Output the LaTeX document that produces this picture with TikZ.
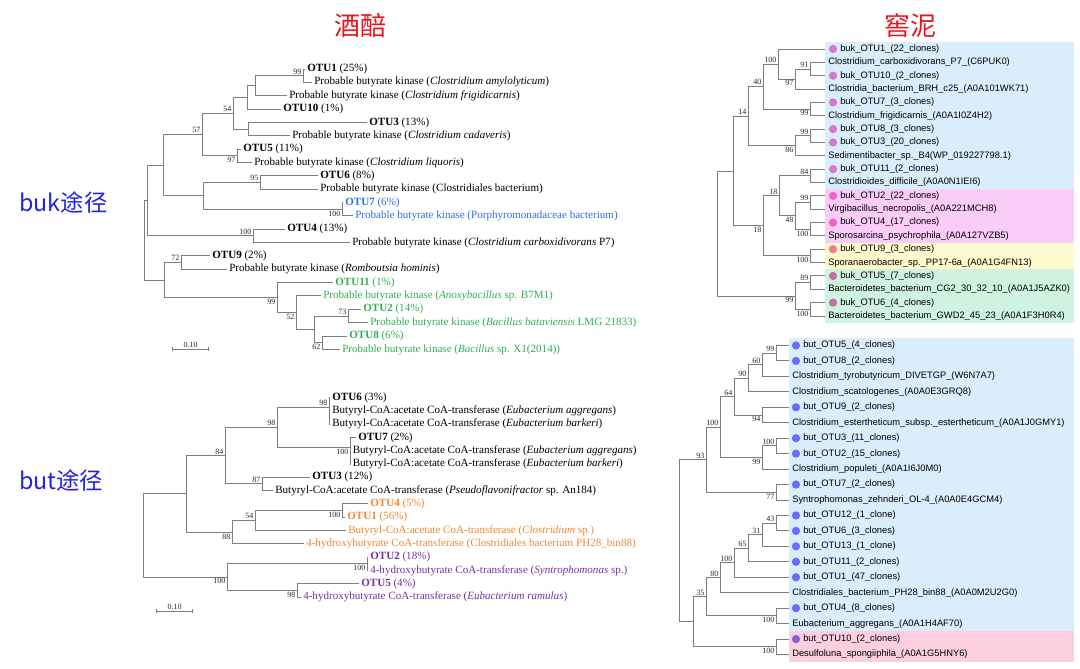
\documentclass[tikz,border=0pt]{standalone}
\usepackage{fontspec}
\setmainfont{Liberation Serif}
\setsansfont{Liberation Sans}
\newfontfamily\cjkfont{Noto Sans CJK SC}
\usetikzlibrary{arrows.meta}
\definecolor{titlered}{RGB}{235,20,30}
\definecolor{routeblue}{RGB}{35,35,225}
\definecolor{treegray}{RGB}{125,125,125}
\definecolor{otublue}{RGB}{45,110,230}
\definecolor{otugreen}{RGB}{50,175,80}
\definecolor{otuorange}{RGB}{240,135,50}
\definecolor{otupurple}{RGB}{115,50,165}
\definecolor{bgblue}{RGB}{217,237,250}
\definecolor{bgpink}{RGB}{250,205,248}
\definecolor{bgyellow}{RGB}{255,250,205}
\definecolor{bggreen}{RGB}{207,243,222}
\definecolor{bgrose}{RGB}{252,207,222}
\definecolor{dotorchid}{RGB}{214,120,205}
\definecolor{dothot}{RGB}{245,95,200}
\definecolor{dotsalmon}{RGB}{240,125,135}
\definecolor{dotmauve}{RGB}{195,110,165}
\definecolor{dotblue}{RGB}{105,110,245}
\definecolor{dotviolet}{RGB}{135,95,215}

\begin{document}
\begin{tikzpicture}[x=0.75pt,y=-0.75pt,
    branch/.style={draw=treegray,line width=0.7pt},
    leafL/.style={anchor=west,inner sep=1.5pt,font=\fontsize{8.3}{10}\selectfont},
    leafR/.style={anchor=west,inner sep=0pt,font=\sffamily\fontsize{7}{8.4}\selectfont},
    boot/.style={inner sep=1pt,font=\fontsize{6}{7}\selectfont,text=black!85},
    otudot/.style={circle,inner sep=0pt,minimum size=6.2pt},
    scalebar/.style={draw=treegray,line width=0.6pt,{Bar[width=3.5pt]}-{Bar[width=3.5pt]}},
    title/.style={font=\cjkfont\fontsize{19.5}{22}\selectfont,text=titlered},
    route/.style={anchor=west,inner sep=0pt,font=\cjkfont\fontsize{17.5}{20}\selectfont,text=routeblue}]
  \useasboundingbox (0,0) rectangle (1080,668);
  \def\jbY{69}    \def\jbS{13.35}
  \def\jtY{397.5} \def\jtS{13.3}
  \def\nbY{49}    \def\nbS{13.35}
  \def\ntY{345.5} \def\ntS{15.45}

  % titles
  \node[title] (tjp) at (360,26) {酒醅};
  \node[title] (tjn) at (910,26) {窖泥};
  \node[route] (rbuk) at (19,203) {buk途径};
  \node[route] (rbut) at (19,481) {but途径};

  % jiupei, buk
  \foreach \k/\xe/\col/\txt in {
      0/305/black/{\textbf{OTU1} (25\%)},
      1/312/black/{Probable butyrate kinase (\textit{Clostridium amylolyticum})},
      2/287/black/{Probable butyrate kinase (\textit{Clostridium frigidicarnis})},
      3/281/black/{\textbf{OTU10} (1\%)},
      4/367/black/{\textbf{OTU3} (13\%)},
      5/290/black/{Probable butyrate kinase (\textit{Clostridium cadaveris})},
      6/241/black/{\textbf{OTU5} (11\%)},
      7/252/black/{Probable butyrate kinase (\textit{Clostridium liquoris})},
      8/318/black/{\textbf{OTU6} (8\%)},
      9/318/black/{Probable butyrate kinase (Clostridiales bacterium)},
      10/343/otublue/{\textbf{OTU7} (6\%)},
      11/353/otublue/{Probable butyrate kinase (Porphyromonadaceae bacterium)},
      12/285/black/{\textbf{OTU4} (13\%)},
      13/350/black/{Probable butyrate kinase (\textit{Clostridium carboxidivorans} P7)},
      14/210/black/{\textbf{OTU9} (2\%)},
      15/227/black/{Probable butyrate kinase (\textit{Romboutsia hominis})},
      16/333/otugreen/{\textbf{OTU11} (1\%)},
      17/321/otugreen/{Probable butyrate kinase (\textit{Anoxybacillus} sp. B7M1)},
      18/361/otugreen/{\textbf{OTU2} (14\%)},
      19/368/otugreen/{Probable butyrate kinase (\textit{Bacillus bataviensis} LMG 21833)},
      20/347/otugreen/{\textbf{OTU8} (6\%)},
      21/340/otugreen/{Probable butyrate kinase (\textit{Bacillus} sp. X1(2014))}}
    \node[leafL,text=\col] (jb\k) at (\xe,{\jbY+\jbS*\k}) {\txt};
  \foreach \n/\x/\r in {A/303/0.5,B/255/1.25,C/247/2.125,D/248/4.5,E/233/3.3125,
      F/237/6.5,G/202/4.90625,H/260/8.5,I/342/10.5,J/203/9.5,K/163/7.203,
      L/253/12.5,M/147/9.852,O/181/14.5,P/348/18.5,Q/322/20.5,U/314/19.5,
      S/296/18.25,T/277/17.125,N/164/15.8125,R/144/12.832}
    \coordinate (jb\n) at (\x,{\jbY+\jbS*\r});
  \foreach \p/\c in {B/A,C/B,E/C,E/D,G/E,G/F,J/H,J/I,K/G,K/J,M/K,M/L,
      U/P,U/Q,S/U,T/S,N/O,N/T,R/M,R/N}
    \draw[branch] (jb\p) |- (jb\c);
  \foreach \p/\c in {A/0,A/1,B/2,C/3,D/4,D/5,F/6,F/7,H/8,H/9,I/10,I/11,
      L/12,L/13,O/14,O/15,T/16,S/17,P/18,P/19,Q/20,Q/21}
    \draw[branch] (jb\p) |- (jb\c.west);
  \foreach \n/\v in {A/99,E/54,G/57,H/95,L/100,O/72,P/73}
    \node[boot,above left] (jbv\n) at (jb\n) {\v};
  \foreach \n/\v in {F/97,I/100,Q/62,S/52,T/99}
    \node[boot,below left] (jbv\n) at (jb\n) {\v};
  \coordinate (jbs1) at (172,349);
  \coordinate (jbs2) at (209,349);
  \draw[scalebar] (jbs1) -- node[boot,above] (jbsl) {0.10} (jbs2);

  % jiupei, but
  \foreach \k/\xe/\col/\txt in {
      0/330/black/{\textbf{OTU6} (3\%)},
      1/330/black/{Butyryl-CoA:acetate CoA-transferase (\textit{Eubacterium aggregans})},
      2/330/black/{Butyryl-CoA:acetate CoA-transferase (\textit{Eubacterium barkeri})},
      3/356/black/{\textbf{OTU7} (2\%)},
      4/350.5/black/{Butyryl-CoA:acetate CoA-transferase (\textit{Eubacterium aggregans})},
      5/350.5/black/{Butyryl-CoA:acetate CoA-transferase (\textit{Eubacterium barkeri})},
      6/310/black/{\textbf{OTU3} (12\%)},
      7/273/black/{Butyryl-CoA:acetate CoA-transferase (\textit{Pseudoflavonifractor} sp. An184)},
      8/368/otuorange/{\textbf{OTU4} (5\%)},
      9/345/otuorange/{\textbf{OTU1} (56\%)},
      10/346/otuorange/{Butyryl-CoA:acetate CoA-transferase (\textit{Clostridium} sp.)},
      11/304/otuorange/{4-hydroxybutyrate CoA-transferase (Clostridiales bacterium PH28\_bin88)},
      12/368/otupurple/{\textbf{OTU2} (18\%)},
      13/368/otupurple/{4-hydroxybutyrate CoA-transferase (\textit{Syntrophomonas} sp.)},
      14/359/otupurple/{\textbf{OTU5} (4\%)},
      15/301/otupurple/{4-hydroxybutyrate CoA-transferase (\textit{Eubacterium ramulus})}}
    \node[leafL,text=\col] (jt\k) at (\xe,{\jtY+\jtS*\k}) {\txt};
  \foreach \n/\x/\r in {A/329/0.75,B/350/3.75,C/277/2.25,D/262/6.5,E/225/4.375,
      F/342/8.5,G/255/9.25,H/232/10.125,W/186/7.25,I/367/12.5,J/297/14.5,
      L/227/13.5,R/143/10.375}
    \coordinate (jt\n) at (\x,{\jtY+\jtS*\r});
  \foreach \p/\c in {C/A,C/B,E/C,E/D,G/F,H/G,W/E,W/H,L/I,L/J,R/W,R/L}
    \draw[branch] (jt\p) |- (jt\c);
  \foreach \p/\c in {A/0,A/1,A/2,B/3,B/4,B/5,D/6,D/7,F/8,F/9,G/10,H/11,
      I/12,I/13,J/14,J/15}
    \draw[branch] (jt\p) |- (jt\c.west);
  \foreach \n/\v in {A/98,C/98,D/87,E/84,G/54}
    \node[boot,above left] (jtv\n) at (jt\n) {\v};
  \foreach \n/\v in {B/100,F/100,H/88,I/100,J/98,L/100}
    \node[boot,below left] (jtv\n) at (jt\n) {\v};
  \coordinate (jts1) at (156,611);
  \coordinate (jts2) at (193,611);
  \draw[scalebar] (jts1) -- node[boot,above] (jtsl) {0.10} (jts2);

  % pit mud, buk
  \fill[bgblue]   (825,{\nbY+\nbS*(-0.5)}) rectangle (1074,{\nbY+\nbS*10.5});
  \fill[bgpink]   (825,{\nbY+\nbS*10.5}) rectangle (1074,{\nbY+\nbS*14.5});
  \fill[bgyellow] (825,{\nbY+\nbS*14.5}) rectangle (1074,{\nbY+\nbS*16.5});
  \fill[bggreen]  (825,{\nbY+\nbS*16.5}) rectangle (1074,{\nbY+\nbS*20.5});
  \foreach \k in {0,...,20}
    \coordinate (nbx\k) at (825,{\nbY+\nbS*\k});
  \foreach \k/\dc/\txt in {0/dotorchid/{buk\_OTU1\_(22\_clones)},
      2/dotorchid/{buk\_OTU10\_(2\_clones)},4/dotorchid/{buk\_OTU7\_(3\_clones)},
      6/dotorchid/{buk\_OTU8\_(3\_clones)},7/dotorchid/{buk\_OTU3\_(20\_clones)},
      9/dotorchid/{buk\_OTU11\_(2\_clones)},11/dothot/{buk\_OTU2\_(22\_clones)},
      13/dothot/{buk\_OTU4\_(17\_clones)},15/dotsalmon/{buk\_OTU9\_(3\_clones)},
      17/dotmauve/{buk\_OTU5\_(7\_clones)},19/dotmauve/{buk\_OTU6\_(4\_clones)}} {
    \node[otudot,fill=\dc] (nbd\k) at (833,{\nbY+\nbS*\k}) {};
    \node[leafR] (nb\k) at (840,{\nbY+\nbS*\k}) {\txt};
  }
  \foreach \k/\txt in {1/{Clostridium\_carboxidivorans\_P7\_(C6PUK0)},
      3/{Clostridia\_bacterium\_BRH\_c25\_(A0A101WK71)},
      5/{Clostridium\_frigidicarnis\_(A0A1I0Z4H2)},
      8/{Sedimentibacter\_sp.\_B4(WP\_019227798.1)},
      10/{Clostridioides\_difficile\_(A0A0N1IEI6)},
      12/{Virgibacillus\_necropolis\_(A0A221MCH8)},
      14/{Sporosarcina\_psychrophila\_(A0A127VZB5)},
      16/{Sporanaerobacter\_sp.\_PP17-6a\_(A0A1G4FN13)},
      18/{Bacteroidetes\_bacterium\_CG2\_30\_32\_10\_(A0A1J5AZK0)},
      20/{Bacteroidetes\_bacterium\_GWD2\_45\_23\_(A0A1F3H0R4)}}
    \node[leafR] (nb\k) at (828,{\nbY+\nbS*\k}) {\txt};
  \foreach \n/\x/\r in {A/810/1.5,B/795/2.25,C/778/1.125,D/810/4.5,E/763/2.8125,
      F/810/6.5,G/795/7.25,H/748/5.03125,I/810/9.5,J/810/11.5,K/810/13.5,
      L/795/12.5,M/779/11,N/810/15.5,O/763/13.25,P/733/9.140625,Q/810/17.5,
      S/810/19.5,T/795/18.5,R/717/13.82}
    \coordinate (nb\n) at (\x,{\nbY+\nbS*\r});
  \foreach \p/\c in {B/A,C/B,E/C,E/D,G/F,H/E,H/G,L/J,L/K,M/I,M/L,O/M,O/N,
      P/H,P/O,T/Q,T/S,R/P,R/T}
    \draw[branch] (nb\p) |- (nb\c);
  \foreach \p/\c in {C/0,A/1,A/2,B/3,D/4,D/5,F/6,F/7,G/8,I/9,I/10,J/11,J/12,
      K/13,K/14,N/15,N/16,Q/17,Q/18,S/19,S/20}
    \draw[branch] (nb\p) |- (nbx\c);
  \foreach \n/\v in {A/91,C/100,E/40,F/99,H/14,I/84,J/99,M/18,Q/89}
    \node[boot,above left] (nbv\n) at (nb\n) {\v};
  \foreach \n/\v in {B/97,D/99,G/86,K/100,L/48,N/100,O/18,S/100,T/99}
    \node[boot,below left] (nbv\n) at (nb\n) {\v};

  % pit mud, but
  \fill[bgblue] (789,{\ntY+\ntS*(-0.5)}) rectangle (1074,{\ntY+\ntS*18.5});
  \fill[bgrose] (789,{\ntY+\ntS*18.5}) rectangle (1074,{\ntY+\ntS*20.5});
  \foreach \k in {0,...,20}
    \coordinate (ntx\k) at (789,{\ntY+\ntS*\k});
  \foreach \k/\dc/\txt in {0/dotblue/{but\_OTU5\_(4\_clones)},
      1/dotblue/{but\_OTU8\_(2\_clones)},4/dotblue/{but\_OTU9\_(2\_clones)},
      6/dotblue/{but\_OTU3\_(11\_clones)},7/dotblue/{but\_OTU2\_(15\_clones)},
      9/dotblue/{but\_OTU7\_(2\_clones)},11/dotblue/{but\_OTU12\_(1\_clone)},
      12/dotblue/{but\_OTU6\_(3\_clones)},13/dotblue/{but\_OTU13\_(1\_clone)},
      14/dotblue/{but\_OTU11\_(2\_clones)},15/dotblue/{but\_OTU1\_(47\_clones)},
      17/dotblue/{but\_OTU4\_(8\_clones)},19/dotviolet/{but\_OTU10\_(2\_clones)}} {
    \node[otudot,fill=\dc] (ntd\k) at (796,{\ntY+\ntS*\k}) {};
    \node[leafR] (nt\k) at (803,{\ntY+\ntS*\k}) {\txt};
  }
  \foreach \k/\txt in {2/{Clostridium\_tyrobutyricum\_DIVETGP\_(W6N7A7)},
      3/{Clostridium\_scatologenes\_(A0A0E3GRQ8)},
      5/{Clostridium\_estertheticum\_subsp.\_estertheticum\_(A0A1J0GMY1)},
      8/{Clostridium\_populeti\_(A0A1I6J0M0)},
      10/{Syntrophomonas\_zehnderi\_OL-4\_(A0A0E4GCM4)},
      16/{Clostridiales\_bacterium\_PH28\_bin88\_(A0A0M2U2G0)},
      18/{Eubacterium\_aggregans\_(A0A1H4AF70)},
      20/{Desulfoluna\_spongiiphila\_(A0A1G5HNY6)}}
    \node[leafR] (nt\k) at (792,{\ntY+\ntS*\k}) {\txt};
  \foreach \n/\x/\r in {A/776/0.5,B/762/1.25,C/748/2.125,D/762/4.5,E/734/3.3125,
      F/776/6.5,G/762/7.25,H/720/5.28125,I/776/9.5,J/706/7.390625,K/776/11.5,
      L/762/12.25,M/748/13.125,N/734/14.0625,O/720/15.03125,P/776/17.5,
      Q/706/16.265625,S/776/19.5,T/693/17.8828,R/679/12.6367}
    \coordinate (nt\n) at (\x,{\ntY+\ntS*\r});
  \foreach \p/\c in {B/A,C/B,E/C,E/D,G/F,H/E,H/G,J/H,J/I,L/K,M/L,N/M,O/N,
      Q/O,Q/P,T/Q,T/S,R/J,R/T}
    \draw[branch] (nt\p) |- (nt\c);
  \foreach \p/\c in {A/0,A/1,B/2,C/3,D/4,D/5,F/6,F/7,G/8,I/9,I/10,K/11,K/12,
      L/13,M/14,N/15,O/16,P/17,P/18,S/19,S/20}
    \draw[branch] (nt\p) |- (ntx\c);
  \foreach \n/\v in {A/99,B/60,C/90,E/64,F/100,H/100,J/93,K/43,L/31,M/65,N/100,O/80,Q/35}
    \node[boot,above left] (ntv\n) at (nt\n) {\v};
  \foreach \n/\v in {D/94,G/99,I/77,P/100,S/100}
    \node[boot,below left] (ntv\n) at (nt\n) {\v};
\end{tikzpicture}
\end{document}
